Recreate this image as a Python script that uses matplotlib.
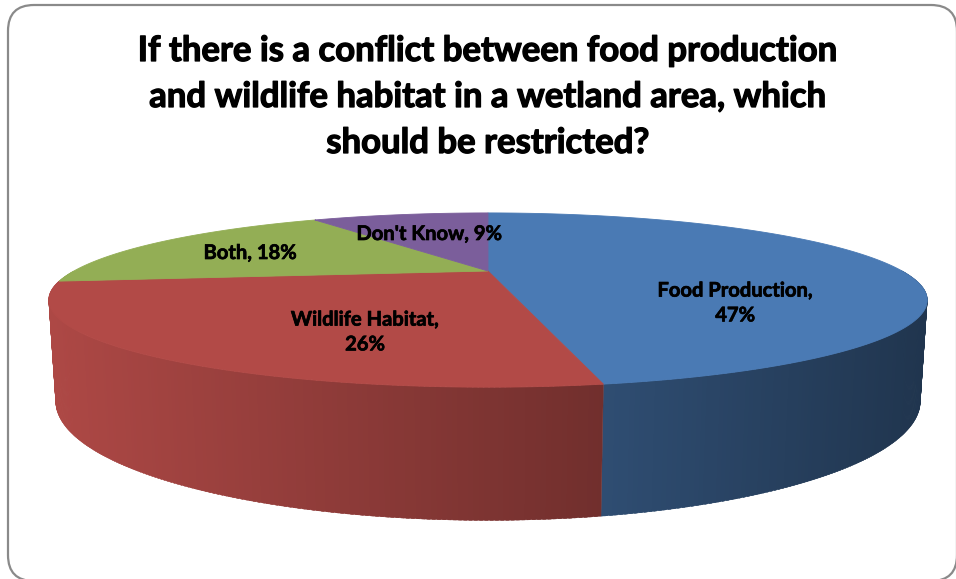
import numpy as np
import matplotlib.pyplot as plt
import matplotlib.patheffects as pe
from matplotlib.patches import Polygon, FancyBboxPatch
from matplotlib.colors import to_rgb

labels = ['Food Production', 'Wildlife Habitat', 'Both', "Don't Know"]
values = [47, 26, 18, 9]
colors = ['#4A7AB4', '#B24A47', '#93AE55', '#7B5E9B']

title_lines = ['If there is a conflict between food production',
               'and wildlife habitat in a wetland area, which',
               'should be restricted?']
label_text = ['Food Production,\n47%', 'Wildlife Habitat,\n26%', 'Both, 18%', "Don't Know, 9%"]
label_pos = [(735, 303), (365, 332), (250, 253), (429, 234)]

# projection of the tilted pie (pixel space)
cx, cy = 488., 271.
D = 2.946                 # camera distance (pie radius = 1)
sin_e = 0.187             # elevation
cos_e = np.sqrt(1 - sin_e**2)
F = 1220.                 # focal length in px
H = 0.227                 # thickness


def project(theta, h):
    x = np.cos(theta)
    w = -np.sin(theta)
    qy = h - D*sin_e
    qz = w - D*cos_e
    depth = -qy*sin_e - qz*cos_e
    sx = x*F/depth
    sy = (qy*cos_e - qz*sin_e)*F/depth
    return cx + sx, cy - sy


fig = plt.figure(figsize=(9.56, 5.79), dpi=100)
ax = fig.add_axes([0, 0, 1, 1])
ax.set_xlim(0, 956)
ax.set_ylim(579, 0)
ax.axis('off')

ax.add_patch(FancyBboxPatch((8, 5), 949, 576, boxstyle='round,pad=0,rounding_size=26',
                            fc='white', ec='#8A8A8A', lw=1.6, zorder=0))

fracs = np.array(values)/sum(values)
ends = np.pi/2 - 2*np.pi*np.cumsum(fracs)
starts = np.concatenate([[np.pi/2], ends[:-1]])

# side walls, drawn back to front
step = np.radians(0.5)
strips = []
for i in range(len(values)):
    th = np.linspace(starts[i], ends[i], int(abs(ends[i]-starts[i])/step) + 2)
    for t1, t2 in zip(th[:-1], th[1:]):
        tm = 0.5*(t1 + t2)
        if np.sin(tm) > 0:
            continue
        strips.append((np.sin(tm), i, t1, t2))
strips.sort(key=lambda s: -s[0])
for _, i, t1, t2 in strips:
    # small overlap so no seams show between strips
    a1 = t1 + 0.3*step if t1 != starts[i] else t1
    a2 = t2 - 0.3*step if t2 != ends[i] else t2
    xa, ya = project(a1, 0)
    xb, yb = project(a2, 0)
    xc, yc = project(a2, -H)
    xd, yd = project(a1, -H)
    xm = 0.25*(xa + xb + xc + xd)
    f = min(0.97 - 0.00062*(xm - 60), 0.97)
    c = np.array(to_rgb(colors[i]))*f
    ax.add_patch(Polygon([(xa, ya), (xb, yb), (xc, yc), (xd, yd)],
                         closed=True, fc=c, ec=c, lw=0.3, zorder=2))

# top faces
for i in range(len(values)):
    th = np.linspace(starts[i], ends[i], 200)
    px, py = project(th, 0)
    pts = [(cx, cy)] + list(zip(px, py))
    ax.add_patch(Polygon(pts, closed=True, fc=colors[i], ec=colors[i], lw=0.6, zorder=3))

font = 'Lato'
for k, line in enumerate(title_lines):
    ax.text(488, 61 + 46*k, line, ha='center', va='baseline', fontsize=25,
            fontweight='bold', family=font, zorder=5,
            path_effects=[pe.withStroke(linewidth=0.9, foreground='black')])

for txt, (x, y) in zip(label_text, label_pos):
    ax.text(x, y, txt, ha='center', va='center', fontsize=14.5, fontweight='bold',
            family=font, linespacing=1.3, zorder=5,
            path_effects=[pe.withStroke(linewidth=0.5, foreground='black')])

fig.savefig('out.png', dpi=100)
